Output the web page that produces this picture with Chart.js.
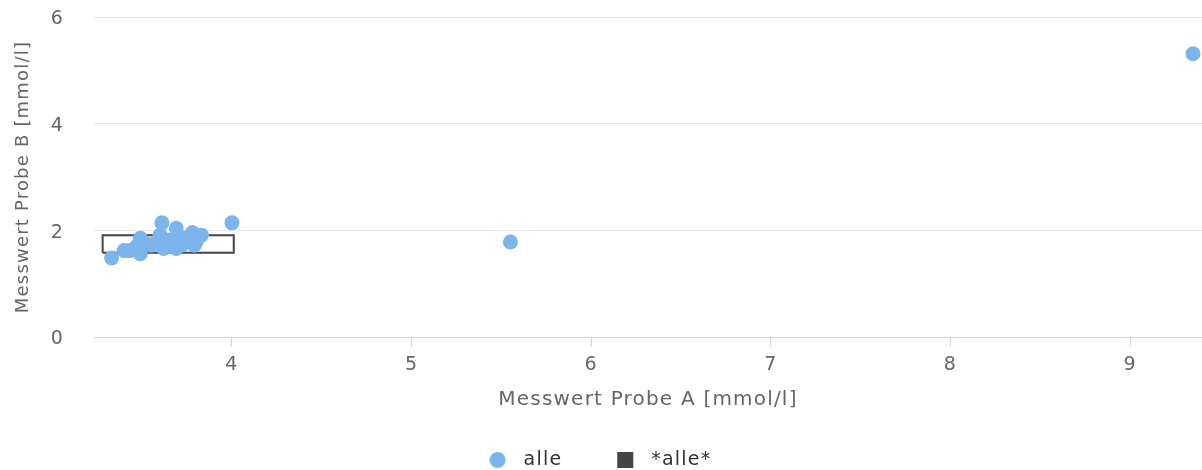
<!DOCTYPE html>
<html>
<head>
<meta charset="utf-8">
<script src="https://cdn.jsdelivr.net/npm/chart.js@4.4.1/dist/chart.umd.min.js"></script>
<style>
  html, body { margin: 0; padding: 0; background: #ffffff; }
  canvas { display: block; }
</style>
</head>
<body>
<canvas id="chart" width="1202" height="470"></canvas>
<script>
// Messwerte: Probe A (x) gegen Probe B (y)
const probeA = [3.33, 3.40, 3.43, 3.47, 3.49, 3.49, 3.52, 3.55, 3.58, 3.60, 3.61, 3.62, 3.63, 3.65,
                3.66, 3.69, 3.69, 3.70, 3.72, 3.74, 3.76, 3.78, 3.79, 3.80, 3.83, 4.00, 5.55, 9.35];
const probeB = [1.48, 1.62, 1.62, 1.70, 1.85, 1.56, 1.75, 1.72, 1.78, 1.91, 2.14, 1.66, 1.75, 1.82,
                1.70, 2.04, 1.66, 1.78, 1.72, 1.85, 1.80, 1.96, 1.72, 1.78, 1.91, 2.14, 1.78, 5.31];

// Rechteck "*alle*": Bereich in x und y
const boxX = [3.28, 4.01];
const boxY = [1.58, 1.91];

const xTicks = [4, 5, 6, 7, 8, 9];
const yTicks = [0, 2, 4, 6];
const xRange = [3.232, 9.40];
const yRange = [0, 6];

const seriesNames = ['alle', '*alle*'];
const colors = ['#7cb5ec', '#434348'];

const points = probeA.map((x, i) => ({ x: x, y: probeB[i] }));
const boxPath = [
  { x: boxX[0], y: boxY[0] },
  { x: boxX[1], y: boxY[0] },
  { x: boxX[1], y: boxY[1] },
  { x: boxX[0], y: boxY[1] },
  { x: boxX[0], y: boxY[0] }
];

// Legend markers (marker sits a little left of the image centre)
function marker(kind, color) {
  const c = document.createElement('canvas');
  c.width = 26; c.height = 20;
  const g = c.getContext('2d');
  g.fillStyle = color;
  const cx = 8.25, cy = 10;
  if (kind === 'circle') {
    g.beginPath(); g.arc(cx, cy, 8, 0, Math.PI * 2); g.fill();
  } else {
    g.fillRect(cx - 8, cy - 8, 16, 16);
  }
  return c;
}
const legendMarkers = [marker('circle', colors[0]), marker('rect', colors[1])];

const font = "'DejaVu Sans', sans-serif";

// Slightly wider text tracking for all labels
const SPACING = '1.2px';
const tracking = {
  id: 'tracking',
  beforeInit(chart) { chart.ctx.letterSpacing = SPACING; },
  beforeUpdate(chart) { chart.ctx.letterSpacing = SPACING; },
  beforeDraw(chart) { chart.ctx.letterSpacing = SPACING; }
};

new Chart(document.getElementById('chart'), {
  type: 'scatter',
  plugins: [tracking],
  data: {
    datasets: [
      {
        label: seriesNames[0],
        data: points,
        backgroundColor: colors[0],
        borderWidth: 0,
        pointRadius: 7.5,
        pointHoverRadius: 7.5
      },
      {
        label: seriesNames[1],
        data: boxPath,
        showLine: true,
        fill: false,
        tension: 0,
        borderColor: colors[1],
        backgroundColor: colors[1],
        borderWidth: 2,
        borderJoinStyle: 'miter',
        pointRadius: 0,
        pointHoverRadius: 0
      }
    ]
  },
  options: {
    responsive: false,
    animation: false,
    layout: { autoPadding: false, padding: { top: 17, right: 0, left: 0, bottom: -9.5 } },
    plugins: {
      tooltip: { enabled: false },
      legend: {
        position: 'bottom',
        align: 'center',
        labels: {
          usePointStyle: true,
          pointStyleWidth: 23.5,
          padding: 56,
          color: '#333333',
          font: { family: font, size: 19 },
          generateLabels(chart) {
            const items = Chart.defaults.plugins.legend.labels.generateLabels(chart);
            return items.map((it, i) => Object.assign(it, {
              pointStyle: legendMarkers[i],
              fillStyle: colors[i],
              strokeStyle: colors[i],
              lineWidth: 0
            }));
          }
        }
      }
    },
    scales: {
      x: {
        type: 'linear',
        min: xRange[0],
        max: xRange[1],
        afterBuildTicks(scale) { scale.ticks = xTicks.map(v => ({ value: v })); },
        afterFit(scale) { scale.height = 57.5; },
        border: { display: true, color: '#ccd6eb', width: 1 },
        grid: {
          drawOnChartArea: false,
          drawTicks: true,
          tickLength: 10,
          color: '#ccd6eb'
        },
        ticks: {
          padding: 7,
          color: '#666666',
          font: { family: font, size: 19 },
          maxRotation: 0
        },
        title: {
          display: true,
          text: 'Messwert Probe A [mmol/l]',
          color: '#666666',
          font: { family: font, size: 20, lineHeight: 1 },
          padding: { top: 0, bottom: -15.5 }
        }
      },
      y: {
        type: 'linear',
        min: yRange[0],
        max: yRange[1],
        afterBuildTicks(scale) { scale.ticks = yTicks.map(v => ({ value: v })); },
        afterFit(scale) {
          scale.width = 94;
          scale.paddingTop = 11;
          scale.paddingBottom = 11;
        },
        border: { display: false },
        grid: {
          color: '#e6e6e6',
          lineWidth: 1,
          drawTicks: false
        },
        ticks: {
          padding: 30,
          labelOffset: 2.5,
          color: '#666666',
          font: { family: font, size: 19 }
        },
        title: {
          display: true,
          text: 'Messwert Probe B [mmol/l]',
          color: '#666666',
          font: { family: font, size: 18, lineHeight: 1 },
          padding: { top: 14, bottom: 0 }
        }
      }
    }
  }
});
</script>
</body>
</html>
